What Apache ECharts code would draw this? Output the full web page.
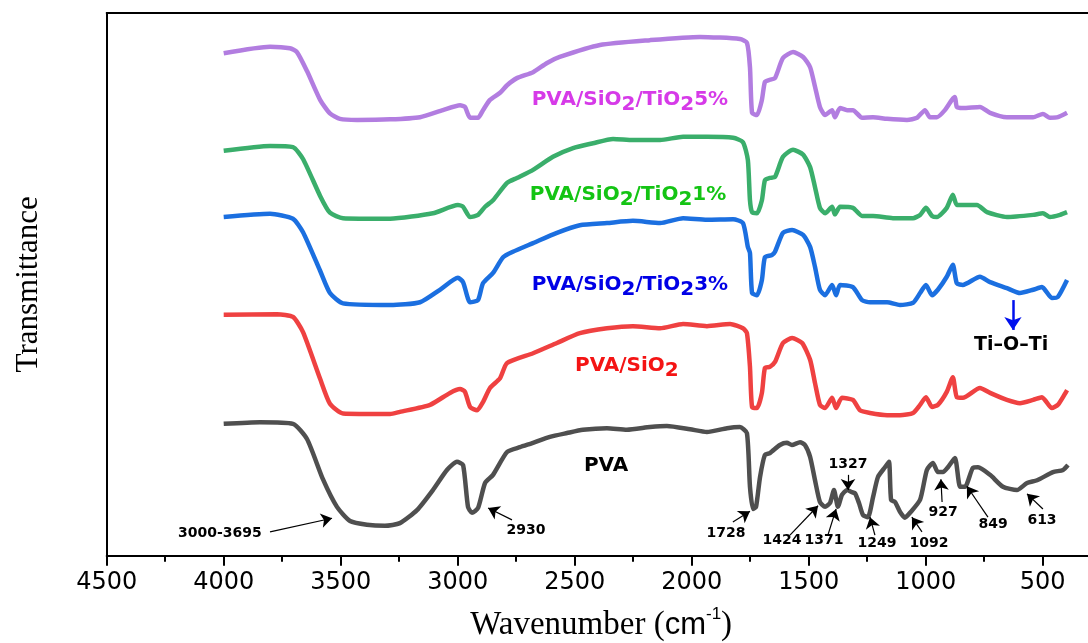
<!DOCTYPE html>
<html><head><meta charset="utf-8">
<script src="https://cdn.jsdelivr.net/npm/echarts/dist/echarts.min.js"></script>
<style>html,body{margin:0;padding:0;background:#fff}#c{width:1088px;height:643px}</style>
</head><body><div id="c"></div>
<script>
// ---- tick labels of the wavenumber axis
const xTickValues = [4500, 4000, 3500, 3000, 2500, 2000, 1500, 1000, 500];

// ---- spectra: [wavenumber (cm-1), stacked transmittance (a.u.)]
const pvaSpectrum = [
[4000,24.3],[3845,24.6],[3704,24.3],[3644,21.5],[3576,14.1],[3516,9.0],[3460,6.4],[3388,5.7],[3311,5.5],[3247,6.0],[3174,8.4],[3106,12.1],[3046,15.8],[3003,17.3],[2977,16.7],[2956,9.0],[2939,7.9],[2913,8.8],[2883,13.4],[2849,14.9],[2789,19.1],[2734,20.0],[2678,20.8],[2606,21.9],[2533,22.6],[2465,23.2],[2362,23.5],[2277,23.2],[2178,23.7],[2106,23.9],[2007,23.3],[1935,22.8],[1849,23.5],[1794,23.7],[1764,22.6],[1751,12.7],[1738,8.6],[1725,9.0],[1708,14.5],[1687,18.6],[1666,18.9],[1623,20.4],[1593,20.8],[1572,20.4],[1537,20.9],[1516,20.4],[1494,18.2],[1473,13.9],[1452,9.9],[1430,9.0],[1409,9.7],[1392,12.1],[1375,9.0],[1358,11.2],[1336,12.1],[1315,11.7],[1302,11.5],[1285,9.7],[1268,7.5],[1247,7.1],[1225,10.8],[1204,14.5],[1174,16.3],[1157,17.3],[1148,10.3],[1131,9.9],[1110,8.1],[1089,7.0],[1067,7.9],[1024,10.3],[995,15.8],[969,17.1],[948,15.4],[926,15.4],[905,16.3],[875,18.0],[853,12.7],[832,12.7],[798,16.2],[776,16.3],[725,14.9],[670,12.7],[610,12.1],[567,13.4],[524,13.9],[456,15.4],[413,15.8],[392,16.7]
];
const pvaSiO2Spectrum = [
[4000,44.4],[3772,44.5],[3704,44.0],[3661,41.2],[3588,32.6],[3546,28.0],[3490,26.2],[3289,26.1],[3247,26.5],[3118,27.8],[3033,30.0],[2990,30.7],[2969,30.2],[2947,27.4],[2917,26.8],[2892,28.3],[2862,30.9],[2819,32.7],[2789,35.5],[2678,37.3],[2576,39.2],[2478,41.0],[2362,41.9],[2251,42.3],[2135,41.9],[2037,42.7],[1935,42.3],[1836,42.7],[1781,41.9],[1764,41.0],[1751,34.8],[1742,27.4],[1721,27.2],[1700,30.0],[1687,34.6],[1666,34.8],[1644,35.7],[1610,39.2],[1571,40.1],[1528,39.2],[1494,36.1],[1473,31.8],[1452,27.8],[1430,27.2],[1400,29.1],[1383,27.2],[1358,29.1],[1311,28.7],[1281,26.8],[1238,26.3],[1165,25.9],[1110,25.9],[1054,26.3],[1024,27.8],[999,29.2],[973,27.4],[948,27.8],[910,30.2],[884,32.9],[867,29.2],[841,29.1],[768,30.9],[725,30.0],[653,28.7],[597,28.1],[541,28.7],[503,29.2],[461,27.2],[435,27.8],[396,30.5]
];
const tio3Spectrum = [
[4000,62.4],[3802,63.0],[3704,62.1],[3661,59.6],[3588,52.5],[3546,48.4],[3490,46.5],[3289,46.2],[3161,46.7],[3076,49.0],[2999,51.2],[2977,50.4],[2947,46.7],[2913,47.1],[2892,50.2],[2849,52.1],[2806,55.0],[2764,56.0],[2678,57.6],[2576,59.5],[2478,60.9],[2362,61.3],[2251,61.7],[2135,61.3],[2037,62.2],[1935,61.9],[1823,62.0],[1781,61.3],[1760,56.9],[1751,55.8],[1742,48.4],[1721,48.0],[1700,50.8],[1687,55.0],[1657,55.4],[1644,56.0],[1610,59.5],[1571,60.0],[1524,59.1],[1494,56.9],[1473,53.2],[1452,49.0],[1430,48.0],[1400,49.9],[1383,48.0],[1366,49.9],[1311,49.5],[1272,47.1],[1238,46.7],[1165,46.7],[1110,46.2],[1054,46.6],[1024,48.4],[999,49.9],[973,48.0],[948,49.0],[910,51.4],[884,53.6],[867,50.2],[841,49.9],[768,51.4],[725,50.4],[653,49.3],[597,48.4],[541,49.0],[503,49.5],[461,47.5],[435,47.7],[396,50.8]
];
const tio1Spectrum = [
[4000,74.6],[3802,75.5],[3704,75.3],[3661,73.1],[3588,66.3],[3546,63.2],[3490,62.2],[3289,62.1],[3106,63.1],[2999,64.6],[2977,64.3],[2947,62.4],[2913,62.8],[2883,64.3],[2849,65.5],[2789,68.7],[2747,69.6],[2678,71.1],[2593,73.5],[2507,75.1],[2422,76.0],[2336,76.8],[2251,76.6],[2135,76.6],[2037,77.2],[1935,77.2],[1823,77.0],[1781,76.2],[1760,72.9],[1751,65.5],[1742,63.3],[1721,63.1],[1700,65.5],[1687,69.2],[1666,69.6],[1644,69.8],[1610,73.5],[1567,74.8],[1524,73.9],[1494,71.6],[1473,67.9],[1452,64.1],[1430,63.1],[1400,64.3],[1388,62.9],[1366,64.3],[1311,64.1],[1272,62.6],[1225,62.6],[1140,62.2],[1054,62.2],[1024,62.8],[999,64.1],[973,62.6],[952,62.4],[910,64.1],[884,66.5],[867,64.6],[841,64.6],[781,64.6],[738,63.3],[653,62.4],[541,62.8],[499,63.1],[469,62.4],[426,62.8],[396,63.3]
];
const tio5Spectrum = [
[4000,92.6],[3802,93.8],[3717,93.5],[3687,92.8],[3644,89.3],[3588,84.0],[3546,81.5],[3503,80.5],[3430,80.3],[3289,80.4],[3161,80.8],[3063,82.1],[2990,83.0],[2969,82.7],[2947,80.7],[2913,80.7],[2892,82.1],[2862,84.0],[2819,85.3],[2789,86.7],[2747,88.0],[2678,89.1],[2618,90.8],[2564,91.9],[2392,94.1],[2178,95.0],[1965,95.6],[1794,95.2],[1764,94.5],[1751,90.0],[1742,81.6],[1721,81.2],[1700,84.0],[1687,87.3],[1666,87.7],[1644,88.0],[1610,91.7],[1567,92.8],[1524,91.9],[1494,90.0],[1473,86.4],[1452,82.7],[1430,81.2],[1400,82.1],[1388,80.8],[1366,82.5],[1336,82.1],[1311,82.1],[1272,80.7],[1225,80.8],[1165,80.5],[1080,80.3],[1037,80.7],[1003,82.1],[982,80.8],[952,80.8],[918,82.1],[888,84.0],[875,84.5],[867,82.7],[841,82.5],[768,82.7],[725,81.6],[653,80.8],[541,80.8],[499,81.4],[469,80.7],[435,80.8],[396,81.6]
];

// ---- peak annotations (label text, label anchor, arrow tail -> head)
const peakLabels = ['3000-3695','2930','1728','1424','1371','1327','1249','1092','927','849','613'];
const peakLabelPos = [[4016,4.2],[2708,4.7],[1853,4.2],[1614,2.9],[1435,2.9],[1332,16.9],[1208,2.3],[986,2.3],[926,7.9],[712,5.7],[503,6.6]];
const peakArrows = [
  [[3802,4.4],[3537,6.9]], [[2768,6.6],[2870,8.8]], [[1824,6.2],[1751,8.2]],
  [[1580,3.8],[1460,9.2]], [[1418,3.8],[1383,8.6]], [[1332,14.9],[1332,12.1]],
  [[1217,3.8],[1238,7.1]], [[1016,4.4],[1059,7.1]], [[930,9.9],[935,14.1]],
  [[734,7.1],[824,12.8]], [[499,8.6],[567,11.4]]
];

const colors = { pva:'#4f4f4f', red:'#ef4141', blue:'#1b6fe0', green:'#3aae6b', purple:'#b27de0' };

const chart = echarts.init(document.getElementById('c'), null, {renderer:'canvas'});

function lineSeries(name, data, color, extra) {
  return Object.assign({
    name, type:'line', data, showSymbol:false, smooth:0.2, silent:true,
    lineStyle:{ width:4.5, color }, itemStyle:{ color }, z:3
  }, extra || {});
}

const sub = (col) => ({ fontFamily:'DejaVu Sans', fontWeight:'bold', fontSize:20, color:col, lineHeight:16, verticalAlign:'bottom' });
function nameLabel(pos, text, col) {
  return {
    value: pos,
    label: {
      show:true, position:'inside', formatter:text,
      fontFamily:'DejaVu Sans', fontWeight:'bold', fontSize:20, color:col, lineHeight:30,
      rich:{ s: sub(col) }
    }
  };
}

const labelData = [
  nameLabel([2264,84.0], 'PVA/SiO{s|2}/TiO{s|2}5%', '#d63ae8'),
  nameLabel([2272,66.5], 'PVA/SiO{s|2}/TiO{s|2}1%', '#14c414'),
  nameLabel([2264,49.9], 'PVA/SiO{s|2}/TiO{s|2}3%', '#0000e6'),
  nameLabel([2277,35.0], 'PVA/SiO{s|2}', '#f41414'),
  nameLabel([2366,16.5], 'PVA', '#000'),
  { value:[635,38.8], label:{ show:true, position:'inside', formatter:'Ti\u2013O\u2013Ti', fontFamily:'DejaVu Sans', fontWeight:'bold', fontSize:19, color:'#000' } }
];
peakLabels.forEach((t, i) => {
  labelData.push({ value: peakLabelPos[i], label:{ show:true, position:'inside', formatter:t, fontFamily:'DejaVu Sans', fontWeight:'bold', fontSize:14, color:'#000' } });
});

const option = {
  animation:false,
  backgroundColor:'#fff',
  grid:{ left:106.7, top:13, bottom:87.3, width:1053, containLabel:false, outerBoundsMode:'none' },
  xAxis:[{
    type:'value', min:0, max:4500, interval:500, inverse:true, position:'bottom',
    axisLine:{ show:true, onZero:false, lineStyle:{ color:'#000', width:2 } },
    axisTick:{ show:true, inside:false, length:10, lineStyle:{ color:'#000', width:2 } },
    minorTick:{ show:true, splitNumber:2, length:6, lineStyle:{ color:'#000', width:2 } },
    axisLabel:{ margin:15, fontFamily:'DejaVu Sans', fontSize:24, color:'#000',
      formatter:(v)=> xTickValues.indexOf(v) >= 0 ? String(v) : '' },
    splitLine:{ show:false },
    name:'Wavenumber ({c|cm}{sup|-1})', nameLocation:'middle', nameGap:50,
    nameTextStyle:{ fontFamily:'Liberation Serif', fontSize:33, color:'#000', lineHeight:40, padding:[0,64,0,0],
      rich:{ c:{ fontFamily:'Liberation Sans', fontSize:31, color:'#000', lineHeight:40 },
             sup:{ fontFamily:'Liberation Sans', fontSize:17, color:'#000', lineHeight:30, verticalAlign:'top' } } }
  },{
    type:'value', min:0, max:4500, inverse:true, position:'top',
    axisLine:{ show:true, onZero:false, lineStyle:{ color:'#000', width:2 } },
    axisTick:{ show:false }, axisLabel:{ show:false }, splitLine:{ show:false }
  }],
  yAxis:{
    type:'value', min:0, max:100,
    axisLine:{ show:true, onZero:false, lineStyle:{ color:'#000', width:2 } },
    axisTick:{ show:false }, axisLabel:{ show:false }, splitLine:{ show:false },
    name:'Transmittance', nameLocation:'middle', nameGap:62,
    nameTextStyle:{ fontFamily:'Liberation Serif', fontSize:31, color:'#000' }
  },
  series:[
    lineSeries('PVA/SiO2/TiO2 5%', tio5Spectrum, colors.purple),
    lineSeries('PVA/SiO2/TiO2 1%', tio1Spectrum, colors.green),
    lineSeries('PVA/SiO2/TiO2 3%', tio3Spectrum, colors.blue, {
      markLine:{ silent:true, symbol:['none','arrow'], symbolSize:13, label:{show:false},
        lineStyle:{ color:'#0010ee', width:2.5, type:'solid' },
        data:[[{coord:[627,47.1]},{coord:[627,41.6]}]] }
    }),
    lineSeries('PVA/SiO2', pvaSiO2Spectrum, colors.red),
    lineSeries('PVA', pvaSpectrum, colors.pva, {
      markLine:{ silent:true, symbol:['none','arrow'], symbolSize:11, label:{show:false},
        lineStyle:{ color:'#000', width:1.2, type:'solid' },
        data: peakArrows.map(a => [{coord:a[0]},{coord:a[1]}]) }
    }),
    { type:'scatter', data:labelData, symbolSize:1, itemStyle:{ color:'transparent', opacity:1 }, silent:true, z:5 }
  ]
};
chart.setOption(option);
</script>
</body></html>
